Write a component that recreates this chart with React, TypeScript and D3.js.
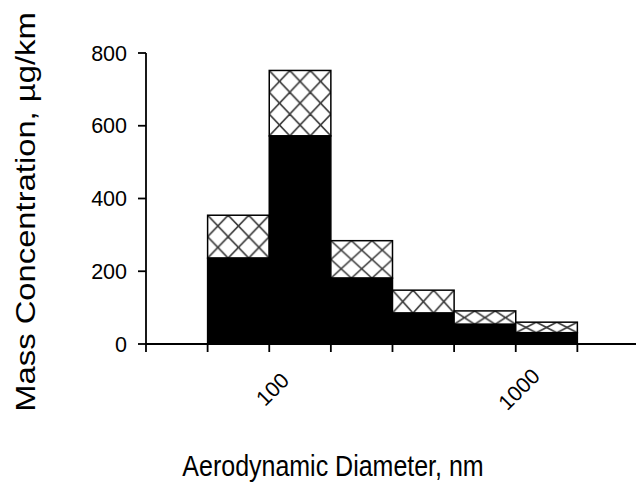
import React from "react";
import * as d3 from "d3";

const binEdges = [56.23, 100, 177.8, 316.2, 562.3, 1000, 1778];
const blackValues = [236, 572, 181, 85, 54, 31];
const totalValues = [354, 752, 284, 148, 91, 60];
const yTicks = [0, 200, 400, 600, 800];
const xLabels = [100, 1000];
const xTickValues = [31.62, 56.23, 100, 177.8, 316.2, 562.3, 1000, 1778];

const W = 636;
const H = 486;

export default function App() {
  const x = d3.scaleLog().domain([Math.pow(10, 1.5), Math.pow(10, 3.5)]).range([146, 639]);
  const y = d3.scaleLinear().domain([0, 800]).range([344, 53]);
  const font = "Liberation Sans, Arial, Helvetica, sans-serif";
  const bars = blackValues.map((b, i) => ({
    x0: x(binEdges[i]),
    x1: x(binEdges[i + 1]),
    b,
    t: totalValues[i],
  }));
  return (
    <svg
      width={W}
      height={H}
      style={{ position: "absolute", left: 0, top: 0, background: "#fff" }}
      fontFamily={font}
    >
      <defs>
        {bars.map((d, i) => {
          const w = d.x1 - d.x0;
          const h = y(d.b) - y(d.t);
          const n = Math.max(1, Math.round(h / 20));
          const cw = w / 3;
          const ch = h / n;
          return (
            <pattern
              key={i}
              id={`hatch${i}`}
              patternUnits="userSpaceOnUse"
              x={d.x0}
              y={y(d.t)}
              width={cw}
              height={ch}
            >
              <rect width={cw} height={ch} fill="#fff" />
              <line x1={0} y1={0} x2={cw} y2={ch} stroke="#3a3a3a" strokeWidth={1.6} />
              <line x1={cw} y1={0} x2={0} y2={ch} stroke="#3a3a3a" strokeWidth={1.6} />
            </pattern>
          );
        })}
      </defs>
      {bars.map((d, i) => (
        <g key={i}>
          <rect
            x={d.x0}
            y={y(d.t)}
            width={d.x1 - d.x0}
            height={y(d.b) - y(d.t)}
            fill={`url(#hatch${i})`}
            stroke="#000"
            strokeWidth={1.5}
          />
          <rect
            x={d.x0}
            y={y(d.b)}
            width={d.x1 - d.x0}
            height={y(0) - y(d.b)}
            fill="#000"
            stroke="#000"
            strokeWidth={1.5}
          />
        </g>
      ))}
      {/* y axis */}
      <line x1={146} x2={146} y1={y(800)} y2={y(0)} stroke="#000" strokeWidth={1.8} />
      {yTicks.map((t) => (
        <g key={t}>
          <line x1={138} x2={146} y1={y(t)} y2={y(t)} stroke="#000" strokeWidth={1.8} />
          <text x={127} y={y(t)} dy="0.36em" textAnchor="end" fontSize={21.5} fill="#000">
            {t}
          </text>
        </g>
      ))}
      {/* x axis */}
      <line x1={146} x2={639} y1={y(0)} y2={y(0)} stroke="#000" strokeWidth={1.8} />
      {xTickValues.map((t, i) => (
        <line key={i} x1={x(t)} x2={x(t)} y1={y(0)} y2={352} stroke="#000" strokeWidth={1.8} />
      ))}
      {xLabels.map((t) => (
        <text
          key={t}
          transform={`translate(${x(t) + 3},${389}) rotate(-45)`}
          textAnchor="middle"
          dy="0.36em"
          fontSize={21.5}
          fill="#000"
        >
          {t}
        </text>
      ))}
      <text
        transform={`translate(333,476) scale(1,1.17)`}
        textAnchor="middle"
        fontSize={25}
        fill="#000"
      >
        Aerodynamic Diameter, nm
      </text>
      <text
        transform={`translate(35,212) scale(1,1.17) rotate(-90)`}
        textAnchor="middle"
        fontSize={28}
        fill="#000"
      >
        Mass Concentration, µg/km
      </text>
    </svg>
  );
}
